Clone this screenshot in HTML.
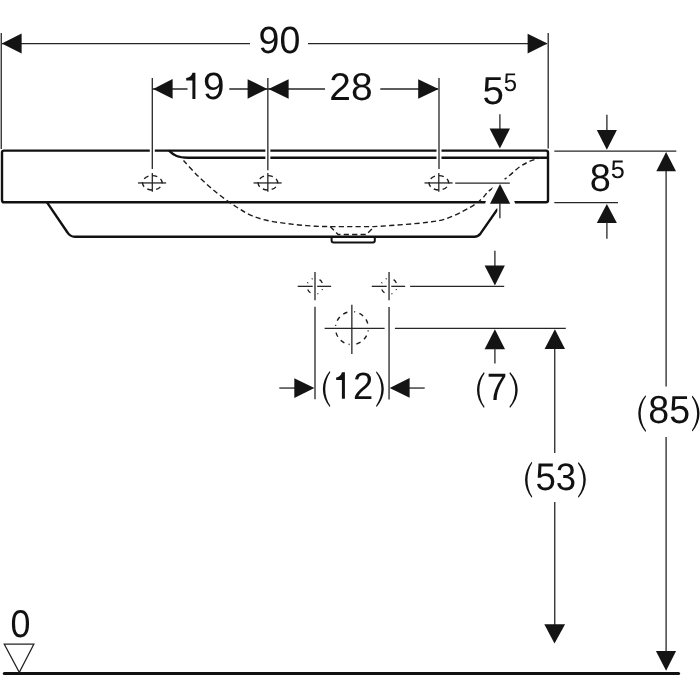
<!DOCTYPE html>
<html>
<head>
<meta charset="utf-8">
<style>
html,body{margin:0;padding:0;background:#fff;width:700px;height:700px;overflow:hidden;}
svg{display:block;filter:grayscale(1);}
text{font-family:"Liberation Sans",sans-serif;fill:#111;text-rendering:geometricPrecision;}
.t{font-size:37.5px;}
.s{font-size:23.5px;}
.thin{stroke:#262626;stroke-width:1.3;fill:none;}
.thick{stroke:#111;stroke-width:2.4;fill:none;stroke-linejoin:round;}
.dash{stroke:#1c1c1c;stroke-width:1.4;fill:none;stroke-dasharray:5.2 3.2;}
.halo{stroke:#fff;stroke-width:5;fill:none;}
.ar{fill:#141414;stroke:none;}
</style>
</head>
<body>
<svg width="700" height="700" viewBox="0 0 700 700">

<!-- ===== Basin body ===== -->
<!-- rim rectangle -->
<path class="thick" d="M4,150.6 H546 Q548,150.6 548,152.6 V200.3 Q548,202.3 546,202.3 H4 Q2,202.3 2,200.3 V152.6 Q2,150.6 4,150.6 Z"/>
<!-- inner rim line -->
<path class="thick" d="M169,150.6 C174,155.5 178,157.7 188,157.7 H548"/>
<!-- lower body -->
<path class="thick" d="M47,202.3 L67.5,232.5 Q70,236.7 75,236.7 H474.5 Q478,236.7 480.6,233.4 L502.3,202.3"/>
<!-- drain outlet -->
<path class="thick" style="stroke-width:2" d="M331.6,236.7 V240.4 Q331.6,242.4 333.6,242.4 H372.8 Q374.8,242.4 374.8,240.4 V236.7"/>
<!-- dashed inner basin -->
<path class="dash" d="M183.5,160.5 C187.3,164.7 193.4,171.6 199.0,177.0 C204.6,182.4 210.9,188.1 217.0,193.0 C223.1,197.9 230.0,202.8 235.7,206.5 C241.4,210.2 245.9,213.0 251.0,215.3 C256.1,217.6 261.1,219.0 266.5,220.3 C271.9,221.6 278.1,222.3 283.5,223.1 C288.9,223.9 293.8,224.5 299.0,225.0 C304.2,225.5 309.8,225.9 315.0,226.2 C320.2,226.5 325.2,226.5 330.2,226.6 L373.4,226.6 C381.6,226.2 394.8,225.2 404.0,224.5 C413.2,223.8 421.8,223.1 428.5,222.2 C435.2,221.3 438.9,221.0 444.5,219.3 C450.1,217.6 456.8,214.4 462.0,211.8 C467.2,209.2 472.3,206.1 475.8,203.7 C479.3,201.3 480.7,199.8 483.0,197.6 C485.3,195.4 485.6,193.8 489.7,190.4 C493.8,187.0 502.4,180.9 507.5,177.0 C512.5,173.1 516.2,169.3 520.0,166.7 C523.8,164.1 526.5,162.7 530.0,161.2 C533.5,159.7 538.0,158.6 541.0,157.8"/>
<path class="dash" d="M330.2,226.6 L338.1,234.5 H366.4 L373.4,227.5"/>

<!-- ===== 90 dimension ===== -->
<line class="thin" x1="1.25" y1="33" x2="1.25" y2="149"/>
<line class="thin" x1="548.2" y1="33" x2="548.2" y2="148.5"/>
<line class="thin" x1="2" y1="43.6" x2="250" y2="43.6"/>
<line class="thin" x1="308" y1="43.6" x2="547" y2="43.6"/>
<polygon class="ar" points="1.8,43.5 21.6,33.4 21.6,53.5"/>
<polygon class="ar" points="547.5,43.6 527.6,33.8 527.6,53.6"/>
<text class="t" transform="translate(258.56,53.33) scale(1.0006,1.0085)">90</text><!--k:90-->

<!-- ===== 19 / 28 dimension ===== -->
<g>
<line class="halo" x1="152.3" y1="145" x2="152.3" y2="162"/>
<line class="halo" x1="267.85" y1="145" x2="267.85" y2="162"/>
<line class="halo" x1="439" y1="145" x2="439" y2="162"/>
</g>
<line class="thin" x1="152.3" y1="78" x2="152.3" y2="169"/>
<line class="thin" x1="267.85" y1="78" x2="267.85" y2="170.3"/>
<line class="thin" x1="439" y1="78" x2="439" y2="169"/>
<line class="thin" x1="152.5" y1="89" x2="187.5" y2="89"/>
<line class="thin" x1="229.3" y1="89" x2="268" y2="89"/>
<line class="thin" x1="268" y1="89" x2="325" y2="89"/>
<line class="thin" x1="380.3" y1="89" x2="438" y2="89"/>
<polygon class="ar" points="153.2,88.9 172.6,79.1 172.6,98.7"/>
<polygon class="ar" points="267.3,88.9 247.6,79.2 247.6,98.7"/>
<polygon class="ar" points="268.5,88.9 288.6,79.2 288.6,98.7"/>
<polygon class="ar" points="438.6,88.9 418.2,79.2 418.2,98.7"/>
<text class="t" transform="translate(202.94,98.85) scale(1.0320,1.0159)">9</text><!--k:19-->
<path fill="#111" d="M195.4,72.7 V98.9 H192.4 V80.4 H186.2 V77.9 C189.2,77.7 191.6,76.1 192.5,72.7 Z"/>
<text class="t" transform="translate(329.27,99.64) scale(1.0384,1.0313)">28</text><!--k:28-->

<!-- ===== tap hole symbols ===== -->
<g id="hole">
<line class="thin" x1="152.3" y1="172.9" x2="152.3" y2="191.8"/>
<line class="thin" x1="138" y1="182.95" x2="166.1" y2="182.95"/>
<ellipse cx="152.3" cy="182.8" rx="9.8" ry="7.2" fill="none" stroke="#1c1c1c" stroke-width="1.4" pathLength="54" stroke-dasharray="5 4" stroke-dashoffset="4.4"/>
</g>
<use href="#hole" x="115.55" y="0"/>
<use href="#hole" x="286.5" y="0"/>

<!-- ===== 5^5 dimension ===== -->
<polygon fill="#fff" stroke="#fff" stroke-width="9.5" stroke-linejoin="round" points="500,184 490,203.7 510.2,203.7"/>
<line x1="499.9" y1="203" x2="499.9" y2="218.2" stroke="#fff" stroke-width="5"/>
<circle cx="499.5" cy="183.5" r="6.8" fill="#fff"/>
<line class="thin" x1="455.2" y1="183.05" x2="509.8" y2="183.05"/>
<line class="thin" x1="499.9" y1="114.3" x2="499.9" y2="130"/>
<polygon class="ar" points="499.9,148.6 489.6,128.5 510,128.5"/>
<polygon class="ar" points="500,184 490,203.7 510.2,203.7"/>
<line class="thin" x1="499.9" y1="203" x2="499.9" y2="218.2"/>
<text class="t" transform="translate(482.59,103.96) scale(1.0278,1.0402)">5</text><!--k:5-->
<text class="s" transform="translate(503.65,91.03) scale(1.0175,1.0881)">5</text><!--k:s5a-->

<!-- ===== 8^5 dimension ===== -->
<line class="thin" x1="554.3" y1="151.1" x2="676.3" y2="151.1"/>
<line class="thin" x1="554.3" y1="202.55" x2="618" y2="202.55"/>
<line class="thin" x1="606.9" y1="114.8" x2="606.9" y2="131"/>
<polygon class="ar" points="606.85,149.8 596.8,130 616.9,130"/>
<polygon class="ar" points="606.85,203.9 596.8,223.1 616.9,223.1"/>
<line class="thin" x1="606.9" y1="222" x2="606.9" y2="238.8"/>
<text class="t" transform="translate(589.73,190.83) scale(1.0123,1.0366)">8</text><!--k:8-->
<text class="s" transform="translate(610.77,177.93) scale(1.0743,1.0840)">5</text><!--k:s5b-->

<!-- ===== (85) dimension ===== -->
<line class="thin" x1="666.1" y1="160" x2="666.1" y2="386.4"/>
<line class="thin" x1="666.1" y1="437.1" x2="666.1" y2="660"/>
<polygon class="ar" points="666.1,152 656.3,171.2 676,171.2"/>
<polygon class="ar" points="666.1,670.8 655.9,651.1 676.1,651.1"/>
<text class="t" transform="translate(635.85,423.11) scale(1.0016,1.0417)"><tspan fill="transparent">(</tspan>85<tspan fill="transparent">)</tspan></text><!--k:(85)-->

<!-- ===== pipe symbols ===== -->
<g id="pipe">
<line class="thin" x1="315" y1="272" x2="315" y2="300.3"/>
<line class="thin" x1="297.7" y1="286.35" x2="312.7" y2="286.35"/>
<line class="thin" x1="317.2" y1="286.35" x2="331.1" y2="286.35"/>
<circle cx="315" cy="286.2" r="8" fill="none" stroke="#1c1c1c" stroke-width="1.3" pathLength="50.2" stroke-dasharray="4.3 6.4 1 5.1 1 7.3" stroke-dashoffset="7.7"/>
</g>
<use href="#pipe" x="74.05" y="0"/>
<line class="thin" x1="410.1" y1="286.35" x2="504.2" y2="286.35"/>

<!-- ===== (7) dimension ===== -->
<line class="thin" x1="494.9" y1="250.7" x2="494.9" y2="266"/>
<polygon class="ar" points="494.9,285.6 484.6,265.4 504.9,265.4"/>
<polygon class="ar" points="494.9,329.2 484.6,349.3 505,349.3"/>
<line class="thin" x1="494.9" y1="348" x2="494.9" y2="363.4"/>
<text class="t" transform="translate(474.45,400.35) scale(0.9797,1.0152)"><tspan fill="transparent">(</tspan>7<tspan fill="transparent">)</tspan></text><!--k:(7)-->

<!-- ===== drain symbol ===== -->
<line class="thin" x1="351.85" y1="304.7" x2="351.85" y2="353.9"/>
<line class="thin" x1="324.6" y1="328.4" x2="384.6" y2="328.4"/>
<circle cx="351.9" cy="328.1" r="16.5" fill="none" stroke="#1c1c1c" stroke-width="1.4" pathLength="104.4" stroke-dasharray="1 4.5 4.5 4.5 4.5 7.1" stroke-dashoffset="23.7"/>
<line class="thin" x1="394.9" y1="328.4" x2="565.8" y2="328.4"/>

<!-- ===== (12) dimension ===== -->
<line class="thin" x1="315" y1="306.7" x2="315" y2="399.2"/>
<line class="thin" x1="389.05" y1="306.9" x2="389.05" y2="399.4"/>
<line class="thin" x1="279.3" y1="388.05" x2="295" y2="388.05"/>
<polygon class="ar" points="314.4,388 294.3,378.2 294.3,397.9"/>
<line class="thin" x1="409" y1="388.05" x2="424.7" y2="388.05"/>
<polygon class="ar" points="389.7,388 409.6,378.1 409.6,397.8"/>
<text class="t" transform="translate(320.67,399.05) scale(0.9699,1.0153)"><tspan fill="transparent">(1</tspan>2<tspan fill="transparent">)</tspan></text><!--k:(12)-->
<path fill="#111" d="M344.9,372.2 V398.7 H341.9 V379.9 H336.2 V377.4 C338.7,377.2 341.1,375.6 342.0,372.2 Z"/>

<!-- ===== (53) dimension ===== -->
<line class="thin" x1="554.75" y1="348" x2="554.75" y2="453.1"/>
<line class="thin" x1="554.75" y1="502.1" x2="554.75" y2="625"/>
<polygon class="ar" points="554.9,329.3 544.6,348.9 565,348.9"/>
<polygon class="ar" points="554.5,643.4 544.3,624.3 565.1,624.3"/>
<text class="t" transform="translate(523.18,490.09) scale(0.9764,1.0250)"><tspan fill="transparent">(</tspan>53<tspan fill="transparent">)</tspan></text><!--k:(53)-->

<!-- parens -->
<path fill="#111" d="M329.80,371.00 C320.60,381.80 320.60,396.20 329.80,407.00 L330.30,405.70 C323.63,396.20 323.63,381.80 330.30,372.30 Z"/>
<path fill="#111" d="M376.60,371.30 C386.20,382.01 386.20,396.29 376.60,407.00 L376.10,405.70 C383.17,396.29 383.17,382.01 376.10,372.60 Z"/>
<path fill="#111" d="M484.00,372.10 C474.67,382.84 474.67,397.16 484.00,407.90 L484.50,406.60 C477.70,397.16 477.70,382.84 484.50,373.40 Z"/>
<path fill="#111" d="M510.00,372.10 C520.27,382.84 520.27,397.16 510.00,407.90 L509.50,406.60 C517.23,397.16 517.23,382.84 509.50,373.40 Z"/>
<path fill="#111" d="M531.70,461.80 C522.90,472.60 522.90,487.00 531.70,497.80 L532.20,496.50 C525.93,487.00 525.93,472.60 532.20,463.10 Z"/>
<path fill="#111" d="M578.50,462.10 C588.23,472.81 588.23,487.09 578.50,497.80 L578.00,496.50 C585.20,487.09 585.20,472.81 578.00,463.40 Z"/>
<path fill="#111" d="M645.50,395.30 C635.90,406.28 635.90,420.92 645.50,431.90 L646.00,430.60 C638.93,420.92 638.93,406.28 646.00,396.60 Z"/>
<path fill="#111" d="M692.40,395.60 C701.87,406.40 701.87,420.80 692.40,431.60 L691.90,430.30 C698.83,420.80 698.83,406.40 691.90,396.90 Z"/>

<!-- ===== floor ===== -->
<line x1="4.3" y1="673.5" x2="678.6" y2="673.5" stroke="#111" stroke-width="3.1" stroke-linecap="round"/>
<polygon points="4.2,644.1 33.9,644.1 19.3,672.4" fill="none" stroke="#222" stroke-width="1.2" stroke-linejoin="miter"/>
<text class="t" transform="translate(10.49,636.93) scale(0.9558,1.0331)">0</text><!--k:0-->

</svg>
</body>
</html>
